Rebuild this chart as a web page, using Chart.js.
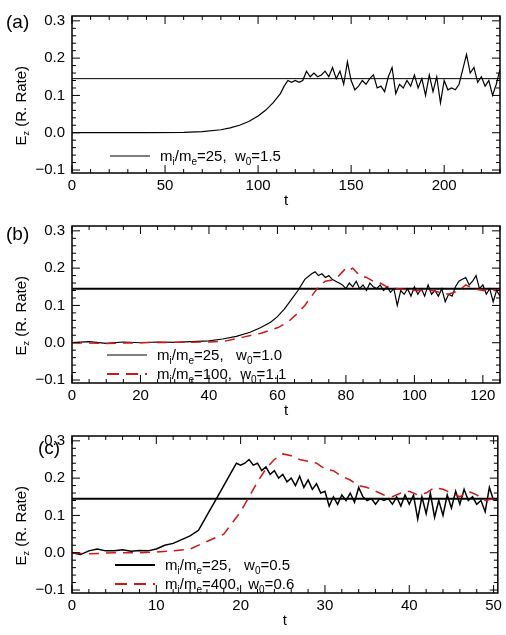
<!DOCTYPE html>
<html><head><meta charset="utf-8">
<script src="https://cdn.jsdelivr.net/npm/chart.js@4"></script>
<style>
body{margin:0;background:#fff;width:506px;height:635px;position:relative;overflow:hidden}
.p{position:absolute;left:0;width:506px;height:210px}
</style></head><body>
<div class="p" style="top:0"><canvas id="ca"></canvas></div>
<div class="p" style="top:210px"><canvas id="cb"></canvas></div>
<div class="p" style="top:420px"><canvas id="cc"></canvas></div>
<script>
// panel (a)
const tA = [0,20,40,60,70,80,85,90,95,100,104,108,112,
  114,116,118,120,122,124,126,128,130,132,
  134,136,138,140,142,144,146,148,150,152,
  154,156,158,160,162,164,166,168,170,172,
  174,176,178,180,182,184,186,188,190,192,
  194,196,198,200,202,204,206,208,210,212,
  214,216,218,220,222,224,226,228,230];
const eA = [0,0,0,0.001,0.003,0.008,0.013,0.02,0.03,0.045,0.06,0.08,0.105,
  0.125,0.14,0.135,0.14,0.135,0.14,0.165,0.15,0.16,0.15,
  0.155,0.165,0.15,0.175,0.145,0.165,0.13,0.19,0.14,0.115,
  0.125,0.14,0.13,0.145,0.155,0.12,0.125,0.11,0.15,0.175,
  0.105,0.13,0.12,0.14,0.125,0.155,0.12,0.145,0.1,0.155,
  0.11,0.15,0.08,0.14,0.115,0.12,0.115,0.13,0.17,0.21,
  0.16,0.175,0.135,0.15,0.125,0.14,0.1,0.13,0.17];

// panel (b)
const tB1 = [0,5,10,15,20,25,30,35,40,44,48,52,55,58,60,62,64,66,68,
  70,71,72,73,74,75,76,77,78,79,80,81,82,83,84,85,86,87,88,89,
  90,91,92,93,94,95,96,97,98,99,100,101,102,103,104,105,106,107,108,109,
  110,111,112,113,114,115,116,117,118,119,120,121,122,123,124,125];
const eB1 = [0,0.003,-0.002,0.002,0,0.002,0.001,0.003,0.005,0.01,0.017,0.028,0.04,0.055,0.07,0.09,0.115,0.14,0.17,
  0.185,0.19,0.18,0.185,0.175,0.18,0.17,0.165,0.16,0.155,
  0.145,0.16,0.15,0.165,0.145,0.155,0.14,0.16,0.15,0.145,
  0.155,0.14,0.15,0.135,0.145,0.1,0.14,0.13,0.145,0.125,
  0.15,0.13,0.145,0.125,0.155,0.13,0.14,0.125,0.145,0.11,
  0.13,0.125,0.15,0.165,0.17,0.175,0.155,0.165,0.18,0.145,
  0.155,0.13,0.145,0.11,0.14,0.125];
const tB2 = [0,10,20,30,40,45,50,55,60,63,66,68,70,72,74,77,79,80,81,82,84,86,88,90,92,95,100,105,110,113,115,117,120,125];
const eB2 = [0,-0.002,0,0.001,0.002,0.005,0.015,0.025,0.04,0.055,0.08,0.1,0.125,0.15,0.165,0.17,0.19,0.2,0.195,0.2,0.18,0.175,0.165,0.16,0.15,0.145,0.14,0.14,0.13,0.14,0.155,0.145,0.14,0.14];

// panel (c)
const tC1 = [0,1,2,3,4,5,6,7,8,9,10,11,12,13,14,15,15.5,16,17,18,19,19.5,
  20,20.5,21,21.5,22,22.5,23,23.5,24,24.5,
  25,25.5,26,26.5,27,27.5,28,28.5,29,29.5,
  30,30.5,31,31.5,32,32.5,33,33.5,34,34.5,
  35,35.5,36,36.5,37,37.5,38,38.5,39,39.5,
  40,40.5,41,41.5,42,42.5,43,43.5,44,44.5,
  45,45.5,46,46.5,47,47.5,48,48.5,49,49.5,50];
const eC1 = [0,-0.005,0.005,0.01,0.005,0.005,0.008,0.004,0.006,0.005,0.01,0.02,0.025,0.035,0.045,0.06,0.08,0.1,0.14,0.18,0.22,0.24,
  0.235,0.24,0.25,0.235,0.24,0.22,0.23,0.21,0.22,0.2,
  0.21,0.19,0.2,0.18,0.205,0.175,0.195,0.17,0.185,0.16,
  0.165,0.125,0.15,0.13,0.155,0.14,0.16,0.135,0.175,0.15,
  0.14,0.145,0.13,0.145,0.14,0.145,0.13,0.15,0.125,0.155,
  0.13,0.155,0.09,0.15,0.105,0.16,0.095,0.14,0.1,0.155,
  0.12,0.165,0.13,0.17,0.14,0.15,0.13,0.14,0.11,0.175,0.14];
const tC2 = [0,2,5,8,10,12,14,16,18,19,20,21,22,23,24,25,26,27,28,29,30,31,32,33,34,35,36,37,38,39,40,41,42,43,44,45,46,47,48,49,50];
const eC2 = [0,-0.003,0,0,0.002,0.005,0.01,0.03,0.05,0.08,0.11,0.15,0.19,0.225,0.25,0.265,0.26,0.25,0.245,0.24,0.225,0.22,0.205,0.195,0.18,0.175,0.165,0.155,0.15,0.16,0.165,0.155,0.16,0.175,0.17,0.16,0.15,0.165,0.155,0.14,0.145];

const refRate = 0.145;
const yTicks = [-0.1, 0, 0.1, 0.2, 0.3];
const FONT = 'Liberation Sans, Arial, sans-serif';
const RED = '#d01818';

const zip = (t, e) => t.map((x, i) => ({ x, y: e[i] }));

// draws "m_i/m_e=25,  w_0=1.5" with subscripts
function subText(ctx, parts, x, y) {
    parts.forEach(([s, sub]) => {
        ctx.font = (sub ? '10px ' : '15px ') + FONT;
        ctx.fillText(s, x, sub ? y + 4 : y);
        x += ctx.measureText(s).width;
    });
}

const decor = {
    id: 'decor',
    afterDraw(chart) {
        const o = chart.options.plugins.decor;
        const { ctx, chartArea: a, scales: { x, y } } = chart;
        ctx.save();
        ctx.strokeStyle = '#000';
        ctx.lineWidth = 1.5;
        ctx.strokeRect(a.left, a.top, a.right - a.left, a.bottom - a.top);
        ctx.lineWidth = 1;
        ctx.beginPath();
        for (let v = 0; v <= o.xMax + 1e-9; v += o.xMinor) {
            const px = x.getPixelForValue(v);
            const major = Math.abs(v / o.xMajor - Math.round(v / o.xMajor)) < 1e-6;
            const len = major ? 8 : 4;
            ctx.moveTo(px, a.bottom); ctx.lineTo(px, a.bottom - len);
            ctx.moveTo(px, a.top); ctx.lineTo(px, a.top + len);
        }
        for (let k = -5; k <= 15; k++) {
            const v = k * 0.02;
            const py = y.getPixelForValue(v);
            const len = k % 5 === 0 ? 8 : 4;
            ctx.moveTo(a.left, py); ctx.lineTo(a.left + len, py);
            ctx.moveTo(a.right, py); ctx.lineTo(a.right - len, py);
        }
        ctx.stroke();
        // panel label
        ctx.fillStyle = '#000';
        ctx.font = '19px ' + FONT;
        ctx.textBaseline = 'alphabetic';
        ctx.fillText(o.label, o.labelX, o.labelY);
        // y title
        ctx.save();
        ctx.translate(26, y.getPixelForValue(0.1) + 50);
        ctx.rotate(-Math.PI / 2);
        ctx.font = '15px ' + FONT;
        ctx.fillText('E', 0, 0);
        let w = ctx.measureText('E').width;
        ctx.font = '9px ' + FONT;
        ctx.fillText('z', w, 3);
        w += ctx.measureText('z').width;
        ctx.font = '15px ' + FONT;
        ctx.fillText(' (R. Rate)', w, 0);
        ctx.restore();
        // legend
        o.legend.forEach((it, i) => {
            const ly = o.legendY + i * 19;
            ctx.strokeStyle = it.color;
            ctx.lineWidth = it.dash ? 2 : (it.thick ? 2 : 1);
            ctx.setLineDash(it.dash ? [12, 7] : []);
            ctx.beginPath();
            ctx.moveTo(o.legendX, ly - 5); ctx.lineTo(o.legendX + 40, ly - 5);
            ctx.stroke();
            ctx.setLineDash([]);
            ctx.fillStyle = '#000';
            subText(ctx, it.parts, o.legendX + 50, ly);
        });
        ctx.restore();
    }
};

function makeChart(id, xMax, xMajor, xMinor, series, decorOpts, refWidth) {
    const datasets = series.map(s => ({
        data: s.data, borderColor: s.color, borderWidth: s.width || 1.2,
        borderDash: s.dash || [], pointRadius: 0, tension: 0, fill: false
    }));
    datasets.push({
        data: [{ x: 0, y: refRate }, { x: xMax, y: refRate }],
        borderColor: '#000', borderWidth: refWidth, pointRadius: 0
    });
    return new Chart(document.getElementById(id), {
        type: 'line',
        data: { datasets },
        options: {
            responsive: true, maintainAspectRatio: false, animation: false,
            layout: { padding: { top: 12, right: 6, left: 0, bottom: 0 } },
            plugins: { legend: { display: false }, tooltip: { enabled: false }, decor: decorOpts },
            scales: {
                x: {
                    type: 'linear', min: 0, max: xMax,
                    afterBuildTicks: s => { const t = []; for (let v = 0; v <= xMax; v += xMajor) t.push({ value: v }); s.ticks = t; },
                    afterFit: s => { s.height = 37; },
                    grid: { display: false, drawTicks: false }, border: { display: false },
                    ticks: { color: '#000', font: { family: FONT, size: 15 }, padding: 4, maxRotation: 0 },
                    title: { display: true, text: 't', color: '#000', font: { family: FONT, size: 15 }, padding: 0 }
                },
                y: {
                    min: -0.108, max: 0.313,
                    afterBuildTicks: s => { s.ticks = yTicks.map(v => ({ value: v })); },
                    afterFit: s => { s.width = 72; },
                    grid: { display: false, drawTicks: false }, border: { display: false },
                    ticks: { color: '#000', font: { family: FONT, size: 15 }, padding: 7, callback: v => v.toFixed(1).replace('-', '\u2212') }
                }
            }
        },
        plugins: [decor]
    });
}

makeChart('ca', 230, 50, 10,
    [{ data: zip(tA, eA), color: '#000' }],
    { xMax: 230, xMajor: 50, xMinor: 10, label: '(a)', labelX: 6, labelY: 28, legendX: 110, legendY: 161,
      legend: [{ color: '#000', parts: [['m'], ['i', 1], ['/m'], ['e', 1], ['=25,  w'], ['0', 1], ['=1.5']] }] }, 1);

makeChart('cb', 125, 20, 5,
    [{ data: zip(tB2, eB2), color: RED, width: 1.5, dash: [10, 7] },
     { data: zip(tB1, eB1), color: '#000' }],
    { xMax: 125, xMajor: 20, xMinor: 5, label: '(b)', labelX: 6, labelY: 30, legendX: 107, legendY: 150,
      legend: [{ color: '#000', parts: [['m'], ['i', 1], ['/m'], ['e', 1], ['=25,   w'], ['0', 1], ['=1.0']] },
               { color: RED, dash: true, parts: [['m'], ['i', 1], ['/m'], ['e', 1], ['=100,  w'], ['0', 1], ['=1.1']] }] }, 2);

makeChart('cc', 50.5, 10, 2,
    [{ data: zip(tC2, eC2), color: RED, width: 1.5, dash: [10, 7] },
     { data: zip(tC1, eC1), color: '#000', width: 1.5 }],
    { xMax: 50.5, xMajor: 10, xMinor: 2, label: '(c)', labelX: 38, labelY: 34, legendX: 115, legendY: 150,
      legend: [{ color: '#000', thick: true, parts: [['m'], ['i', 1], ['/m'], ['e', 1], ['=25,   w'], ['0', 1], ['=0.5']] },
               { color: RED, dash: true, parts: [['m'], ['i', 1], ['/m'], ['e', 1], ['=400,  w'], ['0', 1], ['=0.6']] }] }, 2);
</script>
</body></html>
